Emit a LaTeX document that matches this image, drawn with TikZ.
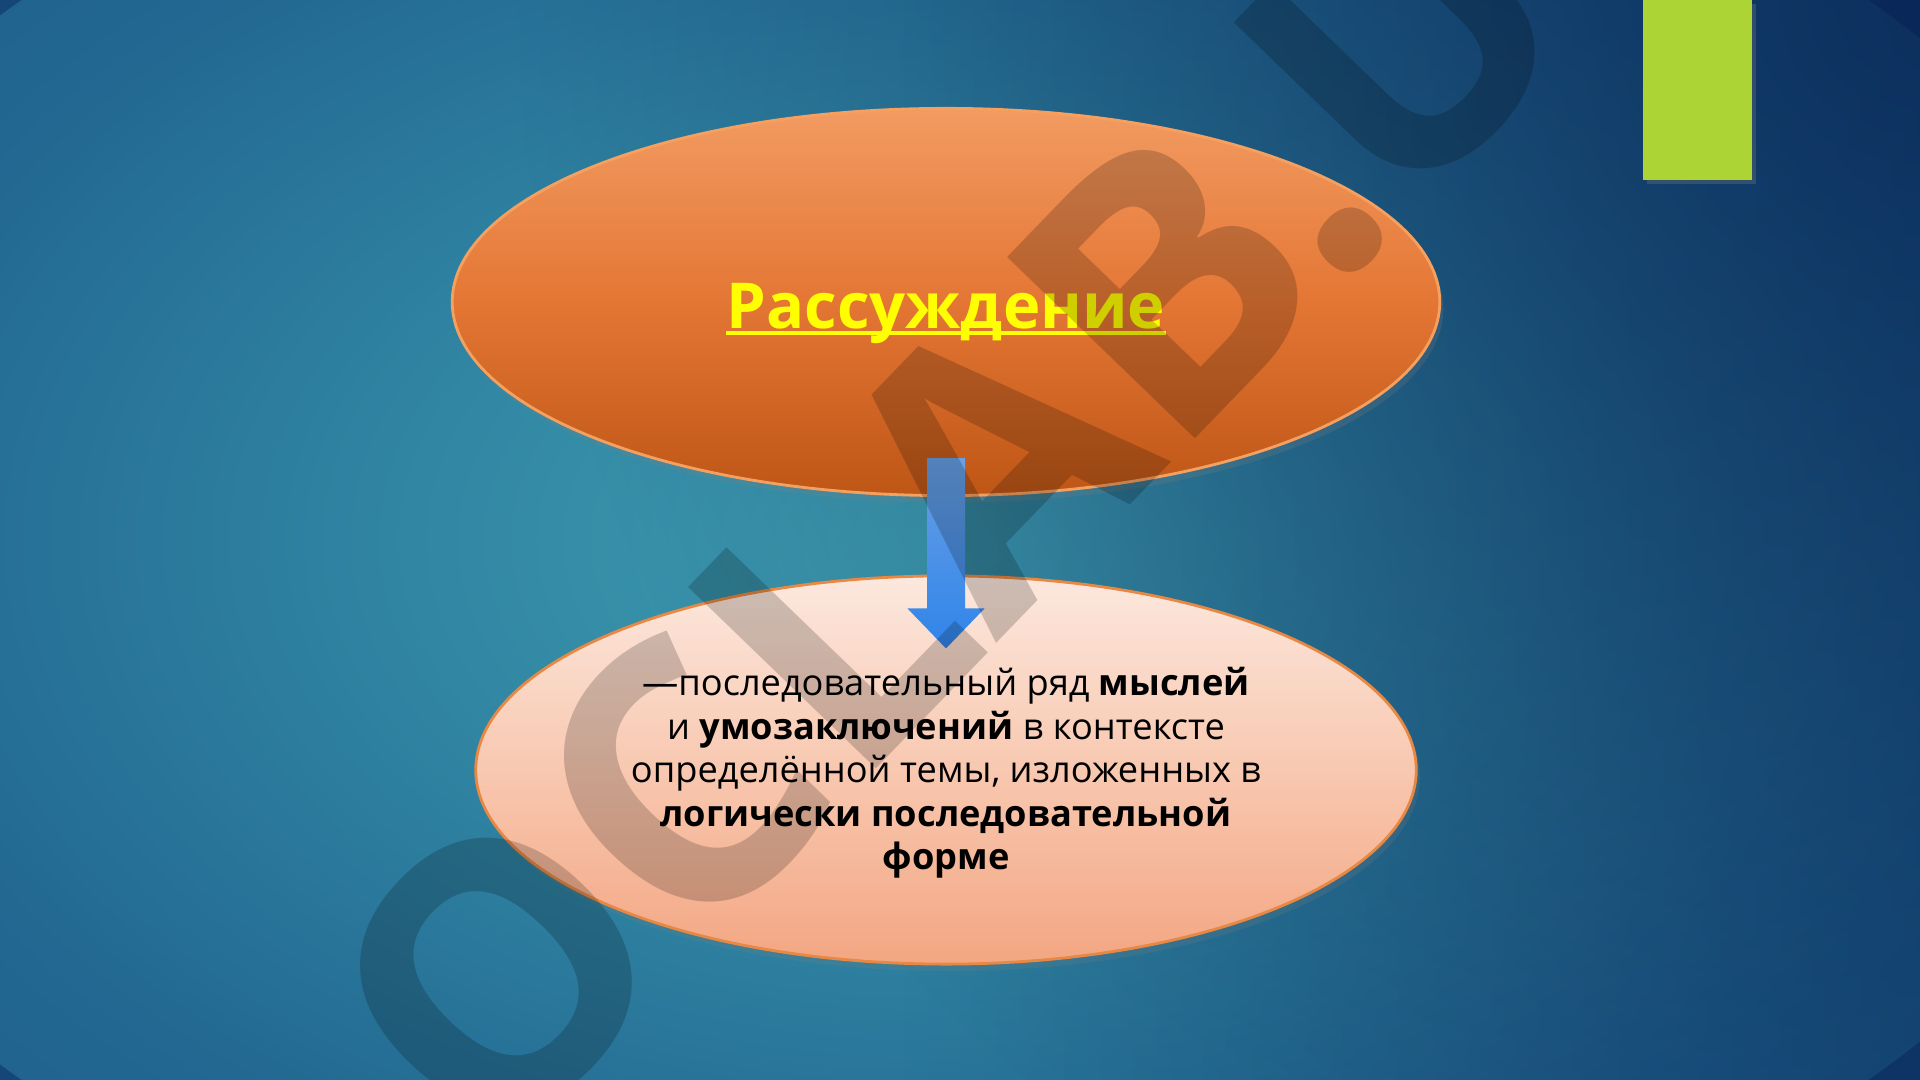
\documentclass[tikz,border=0pt]{standalone}
\usepackage{fontspec}
\setmainfont{Open Sans}
\usetikzlibrary{positioning,calc,shapes.geometric,shadows,fadings}

\definecolor{bgcenter}{RGB}{62,155,175}
\definecolor{bginner}{RGB}{50,136,164}
\definecolor{bgmid}{RGB}{34,104,146}
\definecolor{bgouter}{RGB}{27,84,132}
\definecolor{bgedge}{RGB}{21,70,120}
\definecolor{bgnavy}{RGB}{6,30,78}
\definecolor{ovaltop}{RGB}{242,155,98}
\definecolor{ovaltopmid}{RGB}{228,118,52}
\definecolor{ovaltopdark}{RGB}{190,86,22}
\definecolor{ovaltopline}{RGB}{246,160,96}
\definecolor{ovalbot}{RGB}{252,232,222}
\definecolor{ovalbotmid}{RGB}{248,200,176}
\definecolor{ovalbotdark}{RGB}{243,166,130}
\definecolor{ovalbotline}{RGB}{232,136,66}
\definecolor{arrowtop}{RGB}{104,160,228}
\definecolor{arrowbot}{RGB}{48,132,234}
\definecolor{titleyellow}{RGB}{255,255,0}
\definecolor{barlime}{RGB}{172,212,52}

\pgfdeclareradialshading{bgglow}{\pgfpoint{0bp}{0bp}}{%
  color(0bp)=(bgcenter); color(10bp)=(bginner); color(22bp)=(bgmid);
  color(35bp)=(bgouter); color(50bp)=(bgedge)}
\tikzfading[name=rightdark, left color=transparent!100, right color=transparent!0]
\tikzfading[name=cornerdark, inner color=transparent!0, outer color=transparent!100]

\begin{document}
\begin{tikzpicture}[x=0.01cm, y=-0.01cm,
    oval/.style={ellipse, inner sep=0pt, line width=0.8pt},
    topoval/.style={oval, draw=ovaltopline, top color=ovaltop,
      bottom color=ovaltopdark, middle color=ovaltopmid,
      minimum width=9.87cm, minimum height=3.87cm,
      drop shadow={opacity=0.22, shadow xshift=1pt, shadow yshift=-2pt}},
    botoval/.style={oval, draw=ovalbotline, top color=ovalbot,
      bottom color=ovalbotdark, middle color=ovalbotmid,
      minimum width=9.40cm, minimum height=3.88cm,
      drop shadow={opacity=0.2, shadow xshift=1pt, shadow yshift=-2pt}},
    titletext/.style={inner sep=0pt, text=titleyellow,
      font=\fontsize{18pt}{22pt}\selectfont\bfseries},
    ulline/.style={titleyellow, line width=0.9pt},
    bodytext/.style={inner sep=0pt, align=center, text=black,
      font=\fontsize{10.3pt}{12.35pt}\selectfont},
    flowarrow/.style={top color=arrowtop, bottom color=arrowbot},
    wmark/.style={inner sep=0pt, rotate=46, text=black, text opacity=0.19,
      font=\fontsize{104pt}{104pt}\selectfont\bfseries}]

  \useasboundingbox (0,0) rectangle (1920,1080);

  % background
  \begin{scope}
    \clip (0,0) rectangle (1920,1080);
    \fill[bgedge] (0,0) rectangle (1920,1080);
    \shade[shading=bgglow] (945,540) ellipse (12.5cm and 8cm);
    \fill[bgnavy, path fading=rightdark, opacity=0.35] (900,0) rectangle (1920,1080);
    \fill[bgnavy, path fading=cornerdark, opacity=0.6] (1920,0) circle (14cm);
  \end{scope}

  % green bar
  \fill[barlime, drop shadow={opacity=0.3, shadow xshift=1pt, shadow yshift=-1pt}]
    (1643,0) rectangle (1752,180);

  % ovals
  \node[topoval] (idea) at (946,302) {};
  \node[titletext] (ttl) at (946,314) {Рассуждение};
  \draw[ulline] ($(ttl.base west)+(0,4)$) -- ($(ttl.base east)+(0,4)$);

  \node[botoval] (body) at (946,770) {};
  \node[bodytext] (def) at (946,773)
    {—последовательный ряд \textbf{мыслей}\\
     и \textbf{умозаключений} в контексте\\
     определённой темы, изложенных в\\
     \textbf{логически последовательной}\\
     \textbf{форме}};

  % arrow
  \coordinate (atop) at ($(idea.south)+(0,-39)$);
  \coordinate (atip) at ($(body.north)+(0,74)$);
  \shade[flowarrow] ($(atop)+(-19,0)$) -- ($(atop)+(19,0)$)
    -- ($(atip)+(19,-40)$) -- ($(atip)+(38.5,-40)$) -- (atip)
    -- ($(atip)+(-38.5,-40)$) -- ($(atip)+(-19,-40)$) -- cycle;

  % watermark
  \node[wmark] (wm) at (947,508) {OCLAB.U};
\end{tikzpicture}
\end{document}
